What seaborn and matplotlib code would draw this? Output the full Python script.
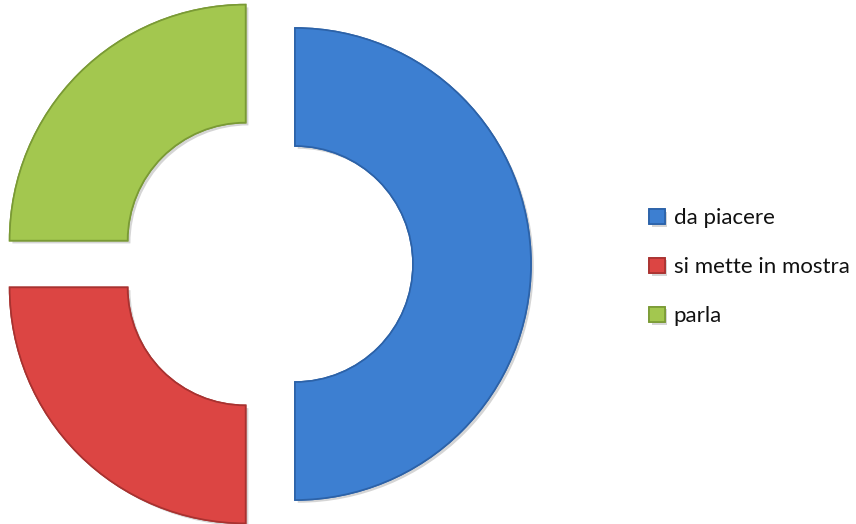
import matplotlib
matplotlib.use("Agg")
import matplotlib.pyplot as plt
import matplotlib.patheffects as pe
import seaborn as sns

sns.set_theme(style="white")
plt.rcParams['font.family'] = ['Lato', 'DejaVu Sans']

# dati
categorie = ['da piacere', 'si mette in mostra', 'parla']
valori = [50, 25, 25]
colori = ['#3d7fd1', '#dc4543', '#a3c74f']
bordi = ['#2c62a8', '#a83230', '#7a9a35']
esplodi = [0.11, 0.14, 0.14]

fig = plt.figure(figsize=(8.56, 5.24), dpi=100)
ax = fig.add_axes([0, 0, 1, 1])

wedges, _ = ax.pie(valori, explode=esplodi, colors=colori, startangle=90,
                   counterclock=False, radius=1.0,
                   wedgeprops=dict(width=0.5, linewidth=1.2))
for w, b in zip(wedges, bordi):
    w.set_edgecolor(b)
    w.set_path_effects([pe.withSimplePatchShadow(offset=(2, -2), shadow_rgbFace='#888888', alpha=0.35),
                        pe.Normal()])

# 1 unita = 236 px, centro a (269, 260) dal basso
ax.set_xlim(-269 / 236, (856 - 269) / 236)
ax.set_ylim(-260 / 236, (524 - 260) / 236)
ax.set_aspect('equal')
ax.axis('off')

leg = ax.legend(wedges, categorie, loc='center left', bbox_to_anchor=(0.735, 0.49),
                frameon=False, fontsize=16, handlelength=0.7, handleheight=0.7,
                handletextpad=0.4, labelspacing=1.3)
for t in leg.get_texts():
    t.set_color('#111111')

fig.savefig('out.png', dpi=100)
